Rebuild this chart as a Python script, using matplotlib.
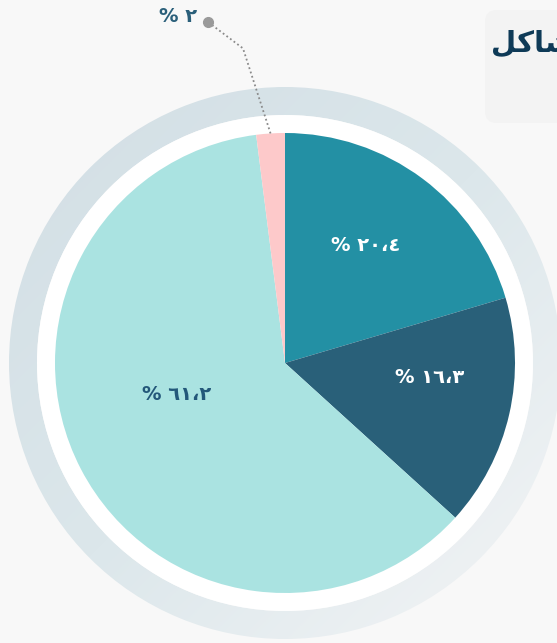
import numpy as np
import matplotlib
matplotlib.use("Agg")
import matplotlib.pyplot as plt
from matplotlib.patches import Wedge, Circle, FancyBboxPatch
from matplotlib.colors import LinearSegmentedColormap

# ---- data ----
categories = ["A", "B", "C", "D"]
values = [20.4, 16.3, 61.2, 2.0]
labels = ["% ٢٠،٤", "% ١٦،٣", "% ٦١،٢", "% ٢"]
colors = ["#2390a4", "#296079", "#aae3e1", "#fdc9ca"]
label_colors = ["#ffffff", "#ffffff", "#23587a", "#2a5f7a"]
title_text = "\uFEDE\uFEDB\uFE8E\uFEB8\uFEE3"  # مشاكل (visual order, shaped)

W, H = 557, 643
R_PX = 230.0
CX, CY = 285.0, 363.0

fig = plt.figure(figsize=(W / 100, H / 100), dpi=100)
fig.patch.set_facecolor("#f8f8f8")
ax = fig.add_axes([0, 0, 1, 1])
ax.set_facecolor("#f8f8f8")

def px(x, y):
    return ((x - CX) / R_PX, ((H - y) - (H - CY)) / R_PX)

# title box (partially cropped at right, as in the source)
bx0, by0 = px(485, 123)
bx1, by1 = px(600, 10)
box = FancyBboxPatch((bx0, by0), bx1 - bx0, by1 - by0,
                     boxstyle="round,pad=0,rounding_size=0.05",
                     fc="#f3f3f3", ec="none", zorder=1)
ax.add_patch(box)
tx, ty = px(491, 44)
ax.text(tx, ty, title_text, ha="left", va="center", fontsize=21,
        fontweight="bold", color="#0e3a57", family=["DejaVu Sans"], zorder=2)

# gradient outer ring
r_out, r_in = 276 / R_PX, 248 / R_PX
ring = Wedge((0, 0), r_out, 0, 360, width=r_out - r_in, fc="none", ec="none")
ax.add_patch(ring)
gx = np.linspace(-1, 1, 300)
GX, GY = np.meshgrid(gx, gx)
grad = (GX - GY) / 2.0  # top-left -> bottom-right
cmap = LinearSegmentedColormap.from_list("ring", ["#d4e0e6", "#dce7eb", "#eff2f4"])
im = ax.imshow(grad, extent=(-r_out, r_out, -r_out, r_out), origin="lower",
               cmap=cmap, vmin=-0.8, vmax=0.8, zorder=2, interpolation="bilinear")
im.set_clip_path(ring)

# white band
ax.add_patch(Circle((0, 0), r_in, fc="#ffffff", ec="none", zorder=2))

# pie
wedges, _ = ax.pie(values, colors=colors, startangle=90, counterclock=False,
                   radius=1.0, wedgeprops=dict(linewidth=0, zorder=3))
for w in wedges:
    w.set_zorder(3)

# labels inside slices (angle offset deg, radius fraction)
label_pos = [(2.5, 0.62), (7.0, 0.63), (-11.0, 0.49)]
tot = sum(values)
cum = 0.0
mids = []
for v in values:
    a0 = 90 - 360 * cum / tot
    a1 = 90 - 360 * (cum + v) / tot
    mids.append((a0 + a1) / 2)
    cum += v

for i in range(3):
    off, rf = label_pos[i]
    ang = np.deg2rad(mids[i] + off)
    ax.text(rf * np.cos(ang), rf * np.sin(ang), labels[i], ha="center",
            va="center", fontsize=14, fontweight="bold", color=label_colors[i],
            family=["DejaVu Sans"], zorder=5)

# leader line for small slice
am = np.deg2rad(mids[3])
p0 = (np.cos(am), np.sin(am))
a2 = np.deg2rad(mids[3] + 4.0)
p1 = (1.38 * np.cos(a2), 1.38 * np.sin(a2))
p2 = px(208, 22)
ax.plot([p0[0], p1[0], p2[0]], [p0[1], p1[1], p2[1]], ls=(0, (1, 1.5)),
        color="#8a8a8a", lw=1.3, zorder=6)
ax.plot([p2[0]], [p2[1]], "o", color="#9a9a9a", ms=7, zorder=7)
lx, ly = px(178, 16)
ax.text(lx, ly, labels[3], ha="center", va="center", fontsize=14,
        fontweight="bold", color=label_colors[3], family=["DejaVu Sans"], zorder=7)

ax.set_xlim(-CX / R_PX, (W - CX) / R_PX)
ax.set_ylim(-(H - CY) / R_PX, CY / R_PX)
ax.set_aspect("auto")
ax.axis("off")

fig.savefig("out.png", dpi=100, facecolor=fig.get_facecolor())
